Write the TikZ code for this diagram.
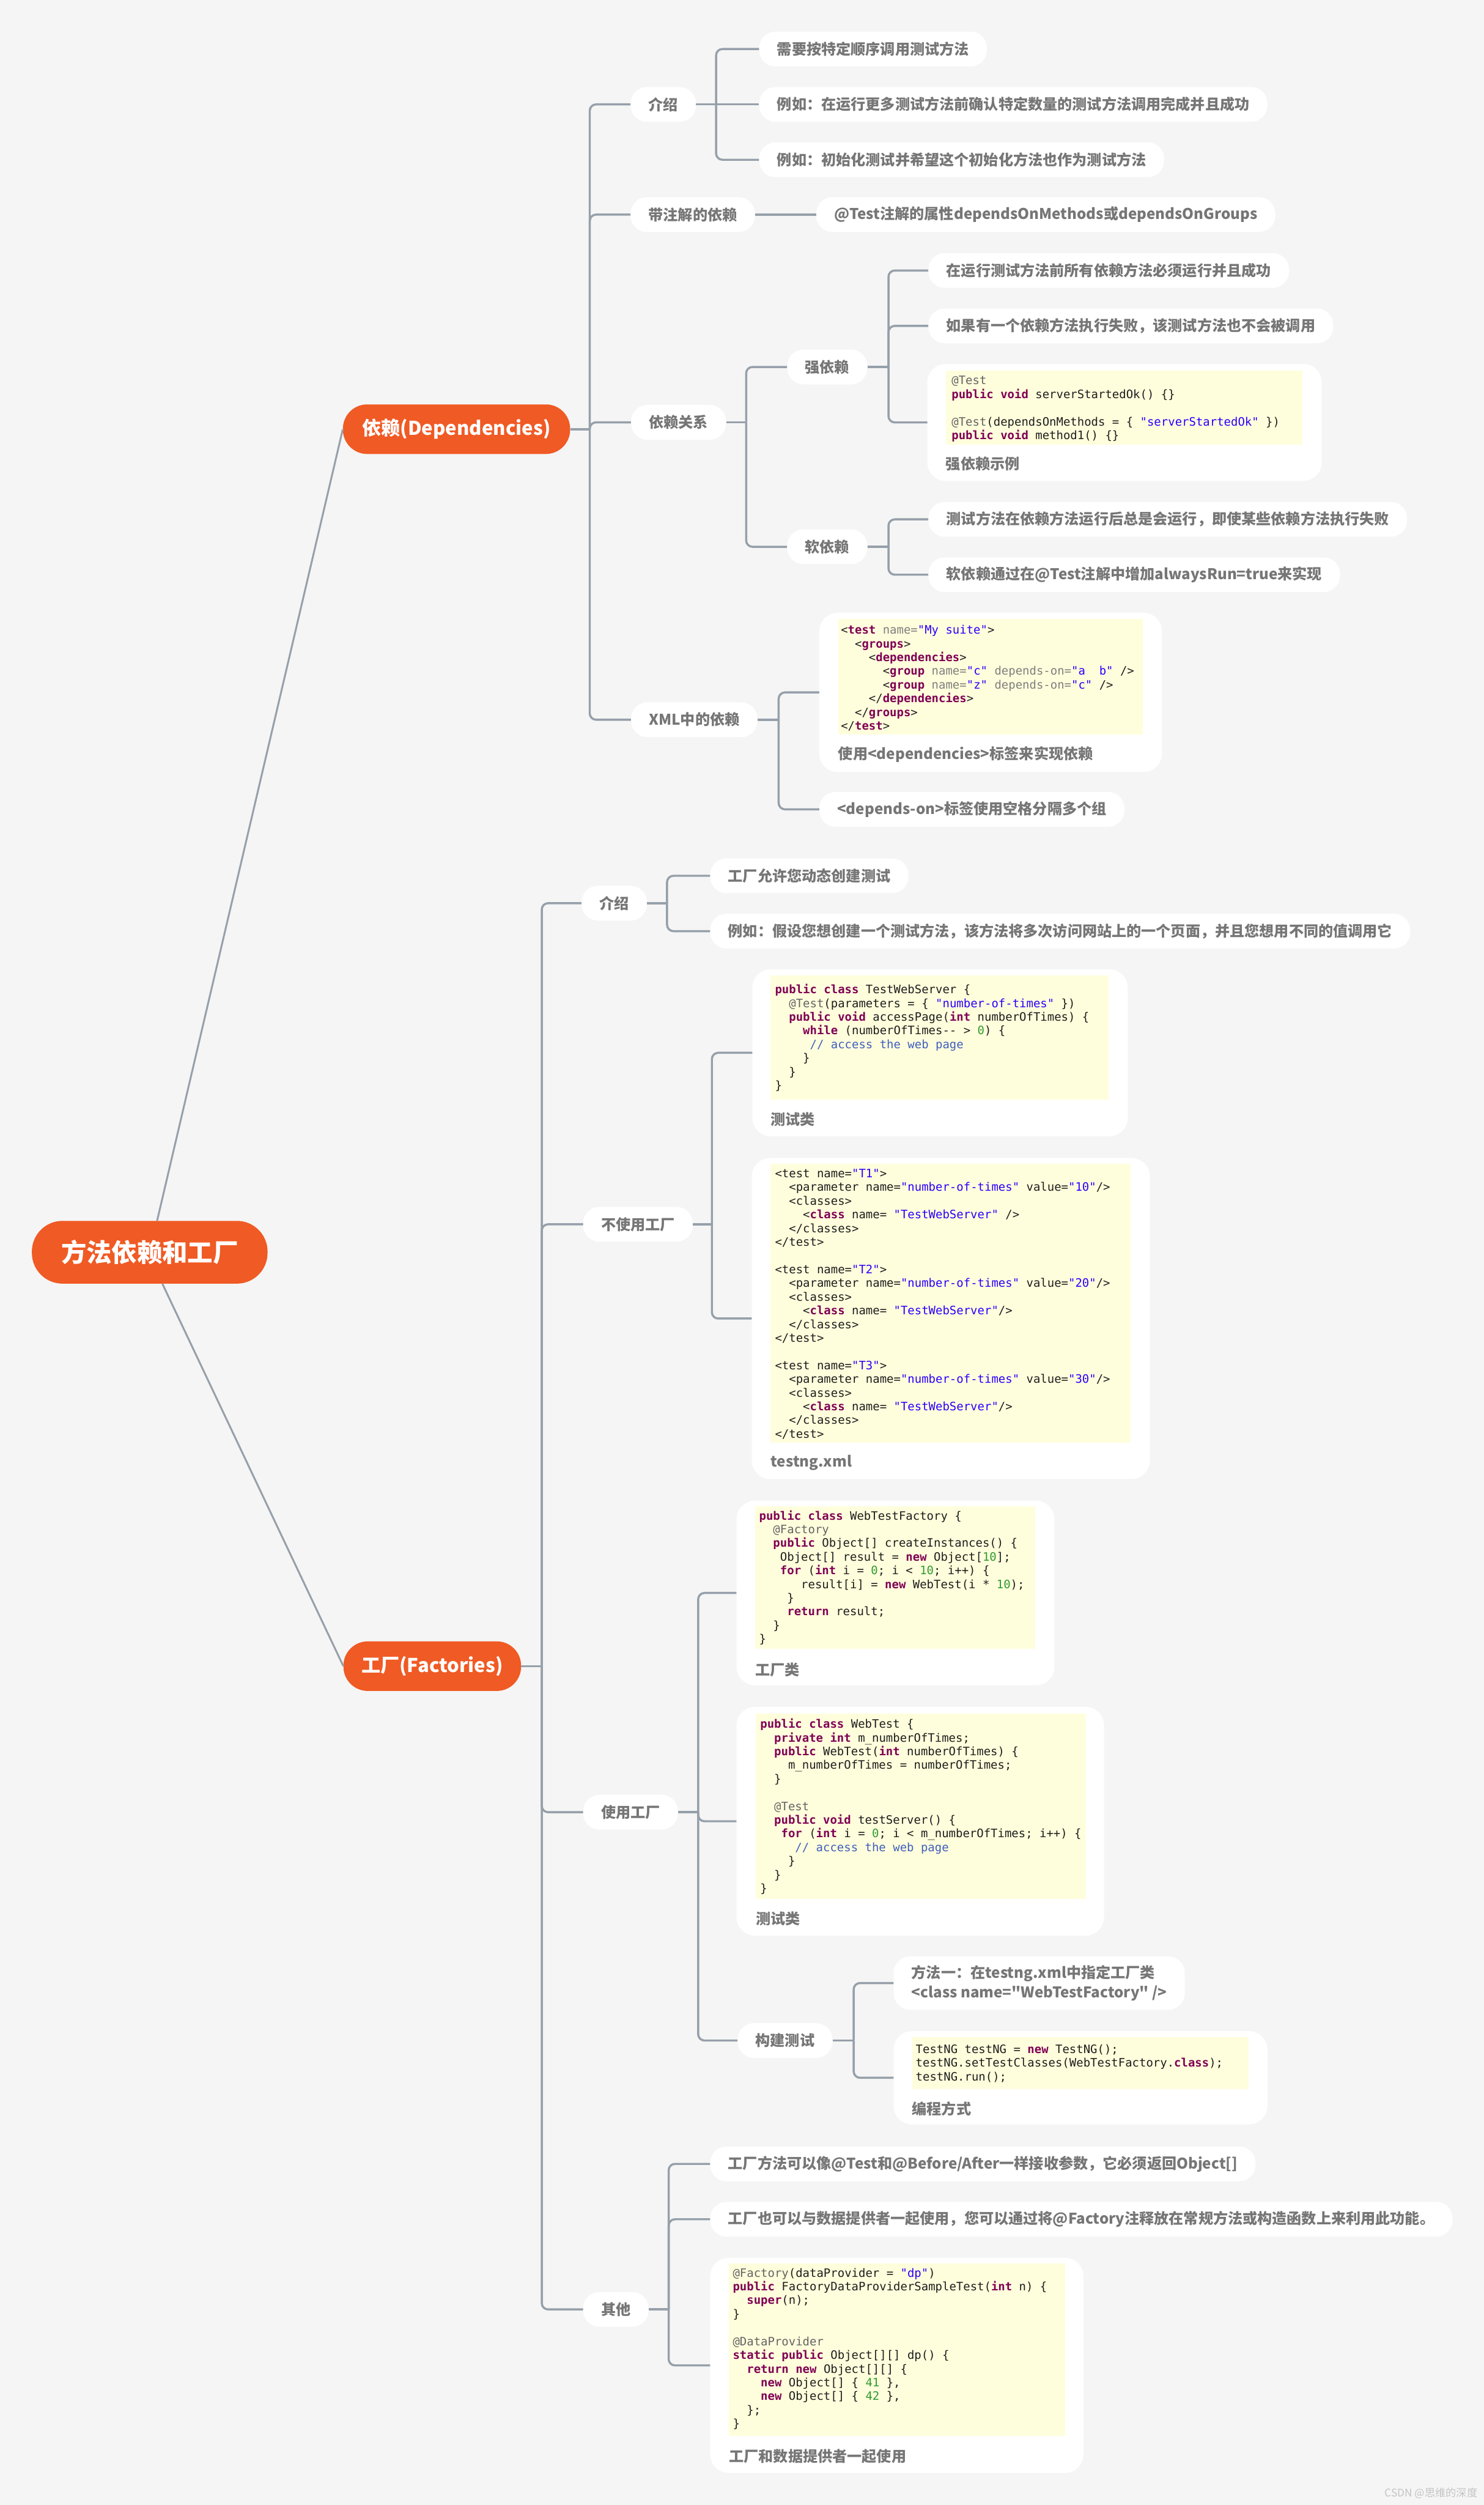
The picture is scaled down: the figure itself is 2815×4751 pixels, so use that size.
\documentclass[tikz,border=0pt]{standalone}
\usepackage{fontspec}
\newfontfamily\cjk{Noto Sans CJK SC}
\newfontfamily\codef{DejaVu Sans Mono}
\usetikzlibrary{calc}
\definecolor{bgc}{HTML}{F5F5F5}
\definecolor{orangec}{HTML}{F05A24}
\definecolor{linec}{HTML}{96A0AA}
\definecolor{txtc}{HTML}{767676}
\definecolor{codeyel}{HTML}{FFFEDC}
\definecolor{kwc}{HTML}{7F0055}
\definecolor{annc}{HTML}{646464}
\definecolor{strc}{HTML}{2A00FF}
\definecolor{cmtc}{HTML}{3F5FBF}
\definecolor{numc}{HTML}{2E9B2E}
\definecolor{attc}{HTML}{7F7F7F}
\definecolor{plainc}{HTML}{1E1E1E}
\definecolor{wmc}{HTML}{C4C4C4}
\newcommand\ckw[1]{\textcolor{kwc}{\bfseries #1}}
\newcommand\cann[1]{\textcolor{annc}{#1}}
\newcommand\cstr[1]{\textcolor{strc}{#1}}
\newcommand\ccmt[1]{\textcolor{cmtc}{#1}}
\newcommand\cnum[1]{\textcolor{numc}{#1}}
\newcommand\catt[1]{\textcolor{attc}{#1}}
\newcommand\ctag[1]{\textcolor{kwc}{\bfseries #1}}
\tikzset{
  conn/.style={draw=linec, line width=4, rounded corners=12},
  rline/.style={draw=linec, line width=3.5},
  leaf/.style={fill=white, rounded corners=31, text=txtc, font=\cjk\bfseries\fontsize{28}{34}\selectfont, inner xsep=34, inner ysep=0, minimum height=66, anchor=west},
  mainnode/.style={fill=orangec, rounded corners=46, text=white, font=\cjk\bfseries\fontsize{36}{42}\selectfont, minimum height=94, inner sep=0},
  cbox/.style={fill=white, rounded corners=35, anchor=north west, inner sep=0},
  codetxt/.style={anchor=north west, inner sep=0, align=left, text=plainc, font=\codef\fontsize{22}{26}\selectfont\frenchspacing},
  capt/.style={anchor=west, inner sep=0, text=txtc, font=\cjk\bfseries\fontsize{28}{34}\selectfont},
}
\begin{document}
\begin{tikzpicture}[x=1pt,y=-1pt]
\fill[bgc] (0,0) rectangle (2815,4751);
\useasboundingbox (0,0) rectangle (2815,4751);

% ---------- main nodes ----------
\node[mainnode, minimum width=447, minimum height=119, rounded corners=58, font=\cjk\bfseries\fontsize{48}{54}\selectfont] (root) at (284,2375) {方法依赖和工厂};
\node[mainnode, minimum width=431] (dep) at (866,814) {依赖(Dependencies)};
\node[mainnode, minimum width=337] (fac) at (820,3160) {工厂(Factories)};

% ---------- dependencies ----------
\node[leaf] (d1) at (1196,198) {介绍};
\node[leaf] (d11) at (1440,93) {需要按特定顺序调用测试方法};
\node[leaf] (d12) at (1440,198) {例如：在运行更多测试方法前确认特定数量的测试方法调用完成并且成功};
\node[leaf] (d13) at (1440,303) {例如：初始化测试并希望这个初始化方法也作为测试方法};
\node[leaf] (d2) at (1196,407) {带注解的依赖};
\node[leaf] (d21) at (1548,407) {@Test注解的属性dependsOnMethods或dependsOnGroups};
\node[leaf] (d3) at (1197,801) {依赖关系};
\node[leaf] (d31) at (1493,696) {强依赖};
\node[leaf] (d311) at (1761,513) {在运行测试方法前所有依赖方法必须运行并且成功};
\node[leaf] (d312) at (1761,618) {如果有一个依赖方法执行失败，该测试方法也不会被调用};
\node[cbox, minimum width=748, minimum height=222] (sd) at (1759,690) {};
\fill[codeyel] (1794,703) rectangle (2471,843);
\node[codetxt] (sdcode) at (1805,711) {\strut\cann{@Test}\\
\ckw{public void} serverStartedOk() \{\}\\
\strut\\
\cann{@Test}(dependsOnMethods = \{ \cstr{"serverStartedOk"} \})\\
\ckw{public void} method1() \{\}};
\node[capt] (sdcap) at (1794,880) {强依赖示例};
\node[leaf] (d32) at (1493,1037) {软依赖};
\node[leaf] (d321) at (1761,985) {测试方法在依赖方法运行后总是会运行，即使某些依赖方法执行失败};
\node[leaf] (d322) at (1761,1090) {软依赖通过在@Test注解中增加alwaysRun=true来实现};
\node[leaf] (d4) at (1197,1365) {XML中的依赖};
\node[cbox, minimum width=650, minimum height=302] (xd) at (1554,1162) {};
\fill[codeyel] (1590,1174) rectangle (2168,1393);
\node[codetxt] (xdcode) at (1595,1184) {\strut<\ctag{test} \catt{name=}\cstr{"My suite"}>\\
~~<\ctag{groups}>\\
~~~~<\ctag{dependencies}>\\
~~~~~~<\ctag{group} \catt{name=}\cstr{"c"} \catt{depends-on=}\cstr{"a~~b"} />\\
~~~~~~<\ctag{group} \catt{name=}\cstr{"z"} \catt{depends-on=}\cstr{"c"} />\\
~~~~</\ctag{dependencies}>\\
~~</\ctag{groups}>\\
</\ctag{test}>};
\node[capt] (xdcap) at (1590,1431) {使用<dependencies>标签来实现依赖};
\node[leaf] (d42) at (1554,1535) {<depends-on>标签使用空格分隔多个组};

% ---------- factories ----------
\node[leaf] (f1) at (1103,1713) {介绍};
\node[leaf] (f11) at (1347,1661) {工厂允许您动态创建测试};
\node[leaf] (f12) at (1347,1766) {例如：假设您想创建一个测试方法，该方法将多次访问网站上的一个页面，并且您想用不同的值调用它};
\node[leaf] (f2) at (1106,2322) {不使用工厂};
\node[cbox, minimum width=712, minimum height=317] (tws) at (1427,1838) {};
\fill[codeyel] (1462,1850) rectangle (2103,2086);
\node[codetxt] (twscode) at (1470,1866) {\strut\ckw{public class} TestWebServer \{\\
~~\cann{@Test}(parameters = \{ \cstr{"number-of-times"} \})\\
~~\ckw{public void} accessPage(\ckw{int} numberOfTimes) \{\\
~~~~\ckw{while} (numberOfTimes-- > \cnum{0}) \{\\
~~~~~\ccmt{// access the web page}\\
~~~~\}\\
~~\}\\
\}};
\node[capt] (twscap) at (1462,2123) {测试类};
\node[cbox, minimum width=755, minimum height=609] (txml) at (1426,2196) {};
\fill[codeyel] (1462,2207) rectangle (2145,2736);
\node[codetxt] (txmlcode) at (1470,2215) {\strut<test name=\cstr{"T1"}>\\
~~<parameter name=\cstr{"number-of-times"} value=\cstr{"10"}/>\\
~~<classes>\\
~~~~<\ctag{class} name= \cstr{"TestWebServer"} />\\
~~</classes>\\
</test>\\
\strut\\
<test name=\cstr{"T2"}>\\
~~<parameter name=\cstr{"number-of-times"} value=\cstr{"20"}/>\\
~~<classes>\\
~~~~<\ctag{class} name= \cstr{"TestWebServer"}/>\\
~~</classes>\\
</test>\\
\strut\\
<test name=\cstr{"T3"}>\\
~~<parameter name=\cstr{"number-of-times"} value=\cstr{"30"}/>\\
~~<classes>\\
~~~~<\ctag{class} name= \cstr{"TestWebServer"}/>\\
~~</classes>\\
</test>};
\node[capt] (txmlcap) at (1462,2774) {testng.xml};

\node[leaf] (f3) at (1106,3437) {使用工厂};
\node[cbox, minimum width=603, minimum height=350] (wtf) at (1397,2846) {};
\fill[codeyel] (1433,2857) rectangle (1964,3127);
\node[codetxt] (wtfcode) at (1440,2864) {\strut\ckw{public class} WebTestFactory \{\\
~~\cann{@Factory}\\
~~\ckw{public} Object[] createInstances() \{\\
~~~Object[] result = \ckw{new} Object[\cnum{10}];\\
~~~\ckw{for} (\ckw{int} i = \cnum{0}; i < \cnum{10}; i++) \{\\
~~~~~~result[i] = \ckw{new} WebTest(i * \cnum{10});\\
~~~~\}\\
~~~~\ckw{return} result;\\
~~\}\\
\}};
\node[capt] (wtfcap) at (1433,3167) {工厂类};
\node[cbox, minimum width=697, minimum height=434] (wt) at (1397,3237) {};
\fill[codeyel] (1434,3250) rectangle (2060,3602);
\node[codetxt] (wtcode) at (1442,3259) {\strut\ckw{public class} WebTest \{\\
~~\ckw{private int} m\_numberOfTimes;\\
~~\ckw{public} WebTest(\ckw{int} numberOfTimes) \{\\
~~~~m\_numberOfTimes = numberOfTimes;\\
~~\}\\
\strut\\
~~\cann{@Test}\\
~~\ckw{public void} testServer() \{\\
~~~\ckw{for} (\ckw{int} i = \cnum{0}; i < m\_numberOfTimes; i++) \{\\
~~~~~\ccmt{// access the web page}\\
~~~~\}\\
~~\}\\
\}};
\node[capt] (wtcap) at (1434,3639) {测试类};
\node[leaf] (f33) at (1399,3870) {构建测试};
\node[leaf, align=left, minimum height=101, font=\cjk\bfseries\fontsize{28}{38}\selectfont] (f331) at (1695,3761) {方法一：在testng.xml中指定工厂类\\<class name="WebTestFactory" />};
\node[cbox, minimum width=709, minimum height=177] (prog) at (1695,3852) {};
\fill[codeyel] (1730,3864) rectangle (2369,3962);
\node[codetxt] (progcode) at (1737,3876) {\strut TestNG testNG = \ckw{new} TestNG();\\
testNG.setTestClasses(WebTestFactory.\ckw{class});\\
testNG.run();};
\node[capt] (progcap) at (1730,4000) {编程方式};

\node[leaf] (f4) at (1106,4380) {其他};
\node[leaf] (f41) at (1347,4104) {工厂方法可以像@Test和@Before/After一样接收参数，它必须返回Object[]};
\node[leaf] (f42) at (1347,4209) {工厂也可以与数据提供者一起使用，您可以通过将@Factory注释放在常规方法或构造函数上来利用此功能。};
\node[cbox, minimum width=708, minimum height=408] (fdp) at (1347,4282) {};
\fill[codeyel] (1383,4293) rectangle (2020,4620);
\node[codetxt] (fdpcode) at (1390,4300) {\strut\cann{@Factory}(dataProvider = \cstr{"dp"})\\
\ckw{public} FactoryDataProviderSampleTest(\ckw{int} n) \{\\
~~\ckw{super}(n);\\
\}\\
\strut\\
\cann{@DataProvider}\\
\ckw{static public} Object[][] dp() \{\\
~~\ckw{return new} Object[][] \{\\
~~~~\ckw{new} Object[] \{ \cnum{41} \},\\
~~~~\ckw{new} Object[] \{ \cnum{42} \},\\
~~\};\\
\}};
\node[capt] (fdpcap) at (1383,4659) {工厂和数据提供者一起使用};

\node[anchor=east, inner sep=0, text=wmc, font=\cjk\fontsize{20}{24}\selectfont] (wm) at (2803,4728) {CSDN @思维的深度};

% ---------- connectors ----------
\draw[rline] ($(root.north)+(14,0)$) -- (dep.west);
\draw[rline] ($(root.south)+(24,0)$) -- (fac.west);

\draw[conn] (dep.east) -- ++(37,0) coordinate (tD);
\foreach \c in {d1,d2,d3,d4} \draw[conn] (tD) |- (\c.west);
\draw[conn] (d1.east) -- ++(38,0) coordinate (t1);
\draw[conn] (t1) |- (d11.west);
\draw[conn] (t1) -- (d12.west);
\draw[conn] (t1) |- (d13.west);
\draw[conn] (d2.east) -- (d21.west);
\draw[conn] (d3.east) -- ++(38,0) coordinate (t3);
\draw[conn] (t3) |- (d31.west);
\draw[conn] (t3) |- (d32.west);
\draw[conn] (d31.east) -- ++(40,0) coordinate (t31);
\draw[conn] (t31) |- (d311.west);
\draw[conn] (t31) |- (d312.west);
\draw[conn] (t31) |- (sd.west);
\draw[conn] (d32.east) -- ++(40,0) coordinate (t32);
\draw[conn] (t32) |- (d321.west);
\draw[conn] (t32) |- (d322.west);
\draw[conn] (d4.east) -- ++(40,0) coordinate (t4);
\draw[conn] (t4) |- (xd.west);
\draw[conn] (t4) |- (d42.west);

\draw[conn] (fac.east) -- ++(39,0) coordinate (tF);
\foreach \c in {f1,f2,f3,f4} \draw[conn] (tF) |- (\c.west);
\draw[conn] (f1.east) -- ++(38,0) coordinate (tf1);
\draw[conn] (tf1) |- (f11.west);
\draw[conn] (tf1) |- (f12.west);
\draw[conn] (f2.east) -- ++(36,0) coordinate (tf2);
\draw[conn] (tf2) |- (tws.west);
\draw[conn] (tf2) |- (txml.west);
\draw[conn] (f3.east) -- ++(38,0) coordinate (tf3);
\draw[conn] (tf3) |- (wtf.west);
\draw[conn] (tf3) |- (wt.west);
\draw[conn] (tf3) |- (f33.west);
\draw[conn] (f33.east) -- ++(40,0) coordinate (tf33);
\draw[conn] (tf33) |- (f331.west);
\draw[conn] (tf33) |- (prog.west);
\draw[conn] (f4.east) -- ++(38,0) coordinate (tf4);
\draw[conn] (tf4) |- (f41.west);
\draw[conn] (tf4) |- (f42.west);
\draw[conn] (tf4) |- (fdp.west);
\end{tikzpicture}
\end{document}
